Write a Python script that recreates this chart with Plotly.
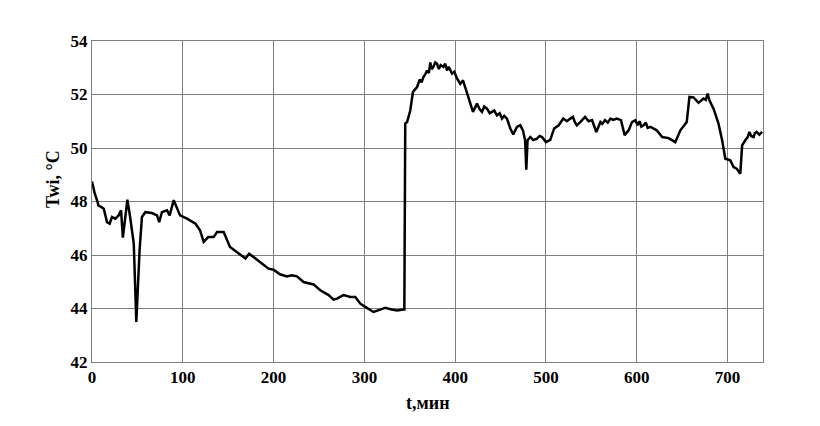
import plotly.graph_objects as go

t_min = [0, 3, 6, 7, 10, 13, 16.5, 19.5, 22, 25.7, 29.3, 32, 34, 36, 39, 42, 46, 48.8, 52.4, 55,
         58.7, 66, 71.6, 74, 77, 82.6, 85.5, 90, 97, 104.6, 114, 119, 123, 128, 134, 137.7, 145,
         152, 160, 169, 173, 178, 185, 194.5, 200, 207, 214.7, 220, 225.7, 233, 244, 251.4, 260.6,
         266, 269.8, 277, 284.5, 290, 295.5, 301, 310, 317.5, 323, 330, 336, 343, 344, 345,
         347, 350.5, 353.5, 358, 361, 363, 365, 367, 369, 371, 372.6, 374, 376, 378, 380, 382,
         384, 387, 389, 391, 393, 396.5, 399, 402, 405.6, 408.6, 413, 416.6, 419.6, 424, 427,
         429.5, 432, 435, 438, 440.5, 443, 446, 449, 451.5, 454, 457, 460.7, 464, 468, 471.7,
         474.6, 477, 478.3, 479.7, 482.7, 486, 490, 493, 495.6, 500, 504.7, 509, 514, 519, 523,
         526.8, 529.7, 532, 534, 537.8, 543, 547, 550.7, 555.4, 560, 562, 565, 568, 571, 574, 578,
         582.6, 586.6, 591, 594.7, 598.4, 601, 603, 605, 607.5, 610, 612, 615, 622, 628, 635,
         642.4, 648, 655, 658, 662.5, 668, 673.5, 676, 678, 680, 684.5, 690, 694, 697.5, 703,
         706.6, 710, 714, 716, 719.5, 722, 724, 726, 728.6, 730, 732, 735, 738]
T_wi = [48.75, 48.3, 48.0, 47.85, 47.8, 47.73, 47.23, 47.17, 47.42, 47.36, 47.48, 47.67, 46.65,
        47.3, 48.07, 47.42, 46.43, 43.5, 46.18, 47.42, 47.6, 47.57, 47.48, 47.23, 47.6, 47.67,
        47.48, 48.05, 47.48, 47.36, 47.17, 46.92, 46.49, 46.67, 46.67, 46.86, 46.86, 46.3, 46.1,
        45.87, 46.05, 45.93, 45.74, 45.49, 45.45, 45.28, 45.2, 45.24, 45.2, 44.99, 44.9, 44.68,
        44.5, 44.33, 44.37, 44.5, 44.43, 44.43, 44.18, 44.06, 43.87, 43.96, 44.03, 43.96, 43.93,
        43.96, 43.96, 50.91, 50.97, 51.4, 52.1, 52.28, 52.56, 52.45, 52.65, 52.75, 52.9, 52.8,
        53.2, 52.95, 53.03, 53.2, 53.15, 52.95, 53.1, 53.03, 53.15, 52.9, 53.03, 52.78, 52.85,
        52.6, 52.4, 52.53, 52.03, 51.66, 51.35, 51.66, 51.45, 51.35, 51.55, 51.47, 51.3, 51.35,
        51.4, 51.22, 51.3, 51.1, 51.2, 51.1, 50.73, 50.51, 50.79, 50.85, 50.66, 50.29, 49.19,
        50.29, 50.41, 50.3, 50.35, 50.45, 50.41, 50.22, 50.3, 50.73, 50.85, 51.1, 51.0, 51.1,
        51.16, 50.95, 50.85, 50.97, 51.16, 51.0, 51.04, 50.6, 50.97, 50.9, 51.04, 50.95, 51.1,
        51.05, 51.1, 51.04, 50.48, 50.66, 50.97, 51.04, 50.85, 51.0, 50.8, 50.85, 50.95, 50.75,
        50.79, 50.66, 50.41, 50.37, 50.22, 50.66, 50.97, 51.91, 51.89, 51.69, 51.85, 51.8, 52.03,
        51.78, 51.47, 50.91, 50.29, 49.6, 49.54, 49.29, 49.23, 49.04, 50.1, 50.29, 50.4, 50.6,
        50.45, 50.41, 50.55, 50.6, 50.5, 50.6]

x_ticks = [0, 100, 200, 300, 400, 500, 600, 700]
y_ticks = [42, 44, 46, 48, 50, 52, 54]

fig = go.Figure()
fig.add_trace(go.Scatter(x=t_min, y=T_wi, mode="lines",
                         line=dict(color="black", width=2.5), showlegend=False))

font = dict(family="Liberation Serif", size=17, color="black")
axis_common = dict(showgrid=True, gridcolor="#7f7f7f", gridwidth=1, showline=True,
                   linecolor="#7f7f7f", linewidth=1, mirror=True, zeroline=False,
                   ticks="", tickfont=font)

fig.update_layout(
    width=812, height=418,
    margin=dict(l=84, r=57, t=33, b=64),
    paper_bgcolor="white", plot_bgcolor="white",
    xaxis=dict(range=[0, 739], tickvals=x_ticks, ticktext=[f"<b>{v}</b>" for v in x_ticks],
               **axis_common),
    yaxis=dict(range=[42, 54], tickvals=y_ticks, ticktext=[f"<b>{v}</b>" for v in y_ticks],
               **axis_common),
    annotations=[
        dict(text="<b>t,мин</b>", x=0.5, y=-0.127, xref="paper", yref="paper",
             xanchor="center", yanchor="middle", showarrow=False,
             font=dict(family="Liberation Serif", size=18, color="black")),
        dict(text="<b>Twi, °C</b>", x=-0.058, y=0.57, xref="paper", yref="paper",
             xanchor="center", yanchor="middle", showarrow=False, textangle=-90,
             font=dict(family="Liberation Serif", size=18, color="black")),
    ],
)

fig.write_html("out.html")
